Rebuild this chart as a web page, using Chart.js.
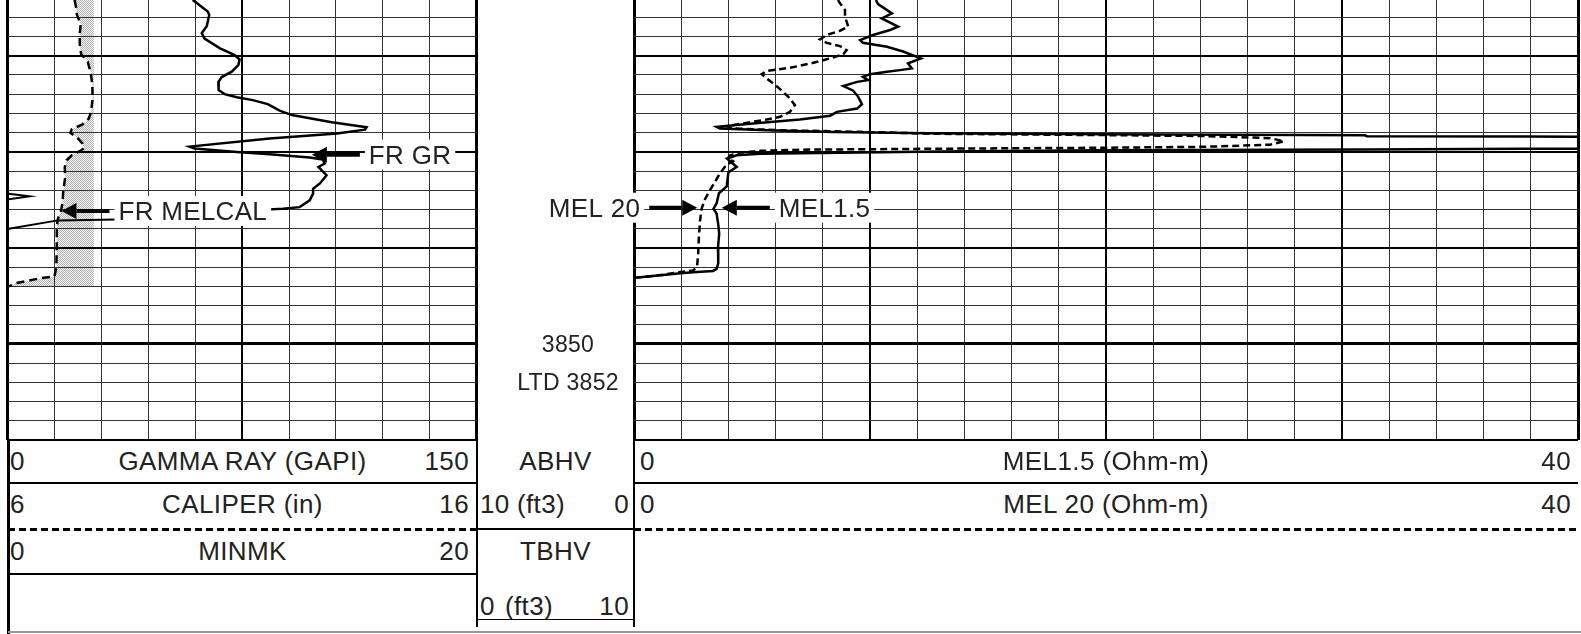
<!DOCTYPE html>
<html>
<head>
<meta charset="utf-8">
<title>Well log</title>
<script src="https://cdn.jsdelivr.net/npm/chart.js@4.4.1/dist/chart.umd.min.js"></script>
<style>
  html, body { margin: 0; padding: 0; background: #fff; }
  body { position: relative; width: 1581px; height: 634px; overflow: hidden; font-family: "Liberation Sans", Arial, sans-serif; }
  canvas { position: absolute; top: 0; }
  #trackLeft { left: 0; width: 480px; height: 442px; }
  #trackRight { left: 477px; width: 1104px; height: 442px; }
  .tx { position: absolute; font-size: 26px; letter-spacing: 0.4px; line-height: 30px; height: 30px; white-space: nowrap; color: #222; }
  .c { text-align: center; }
  .r { text-align: right; }
  .ln { position: absolute; background: #000; }
  .dash { position: absolute; height: 2.5px; background: repeating-linear-gradient(to right, #000 0 7px, transparent 7px 11px); }
</style>
</head>
<body>
<canvas id="trackLeft" width="480" height="442"></canvas>
<canvas id="trackRight" width="1104" height="442"></canvas>

<!-- header: left track -->
<div class="tx" style="left:10px;top:446px">0</div>
<div class="tx c" style="left:8px;width:469px;top:446px">GAMMA RAY (GAPI)</div>
<div class="tx r" style="left:380px;width:89px;top:446px">150</div>
<div class="tx" style="left:10px;top:489px">6</div>
<div class="tx c" style="left:8px;width:469px;top:489px">CALIPER (in)</div>
<div class="tx r" style="left:380px;width:89px;top:489px">16</div>
<div class="tx" style="left:10px;top:536px">0</div>
<div class="tx c" style="left:8px;width:469px;top:536px">MINMK</div>
<div class="tx r" style="left:380px;width:89px;top:536px">20</div>

<!-- header: depth track -->
<div class="tx c" style="left:477px;width:157px;top:446px">ABHV</div>
<div class="tx" style="left:480px;top:489px">10</div>
<div class="tx c" style="left:506px;width:70px;top:489px">(ft3)</div>
<div class="tx r" style="left:590px;width:39px;top:489px">0</div>
<div class="tx c" style="left:477px;width:157px;top:536px">TBHV</div>
<div class="tx" style="left:480px;top:591px">0</div>
<div class="tx c" style="left:494px;width:70px;top:591px">(ft3)</div>
<div class="tx r" style="left:590px;width:39px;top:591px">10</div>

<!-- header: right track -->
<div class="tx" style="left:640px;top:446px">0</div>
<div class="tx c" style="left:634px;width:944px;top:446px">MEL1.5 (Ohm-m)</div>
<div class="tx r" style="left:1471px;width:100px;top:446px">40</div>
<div class="tx" style="left:640px;top:489px">0</div>
<div class="tx c" style="left:634px;width:944px;top:489px">MEL 20 (Ohm-m)</div>
<div class="tx r" style="left:1471px;width:100px;top:489px">40</div>

<!-- header rules -->
<div class="ln" style="left:6.5px;top:440px;width:3px;height:194px"></div>
<div class="ln" style="left:8px;top:481.5px;width:469px;height:2.5px"></div>
<div class="dash" style="left:8px;top:528px;width:469px"></div>
<div class="ln" style="left:8px;top:573.2px;width:469px;height:1.7px"></div>
<div class="ln" style="left:476px;top:440px;width:2px;height:187px"></div>
<div class="ln" style="left:477px;top:528.2px;width:157px;height:1.7px"></div>
<div class="ln" style="left:477px;top:618.5px;width:157px;height:1.7px"></div>
<div class="ln" style="left:633px;top:440px;width:2px;height:187px"></div>
<div class="ln" style="left:634px;top:481.5px;width:944px;height:2.5px"></div>
<div class="dash" style="left:634px;top:528px;width:944px"></div>
<div class="ln" style="left:8px;top:630.5px;width:1573px;height:2px;background:#999"></div>

<script>
// depth window (ft)
const depthTop = 3832.1;
const depthBottom = 3855;
const depthTicks = [];
for (let d = 3833; d <= depthBottom; d++) depthTicks.push(d);

// gamma ray (GAPI)
const grDepth = [3832.10, 3832.26, 3832.70, 3832.88, 3833.46, 3833.82, 3834.11, 3834.60, 3834.97, 3835.20,
  3835.49, 3835.83, 3836.11, 3836.37, 3836.79, 3837.00, 3837.16, 3837.31, 3837.52, 3837.86,
  3838.09, 3838.46, 3838.72, 3838.85, 3839.05, 3839.31, 3839.73, 3839.83, 3840.01, 3840.13,
  3840.30, 3840.40, 3840.61, 3840.79, 3841.22, 3841.66, 3841.92, 3842.18, 3842.53, 3842.88,
  3842.97, 3843.01];
const grValue = [59.2, 60.5, 64.0, 64.5, 63.7, 62.1, 63.0, 67.8, 72.6, 74.2,
  73.8, 71.7, 68.5, 67.4, 67.5, 69.4, 73.3, 78.4, 83.2, 87.0,
  90.9, 103.7, 114.8, 114.3, 105.3, 83.8, 58.2, 59.8, 73.3, 83.8,
  96.6, 100.8, 101.4, 99.4, 102.0, 99.8, 97.7, 97.7, 96.6, 93.4,
  88.0, 82.2];

// caliper (in) and bit size
const calDepth = [3832.10, 3832.46, 3832.88, 3833.35, 3833.87, 3834.39, 3834.92, 3835.32, 3835.85, 3836.53,
  3837.31, 3837.94, 3838.28, 3838.59, 3838.82, 3839.01, 3839.27, 3839.58, 3839.82, 3839.97,
  3840.18, 3840.44, 3840.81, 3841.33, 3842.00, 3842.68, 3843.05, 3843.52, 3843.93, 3844.98,
  3846.02, 3846.49, 3846.59, 3846.85, 3847.01];
const calValue = [7.43, 7.46, 7.48, 7.56, 7.54, 7.54, 7.57, 7.71, 7.77, 7.81,
  7.81, 7.78, 7.73, 7.59, 7.37, 7.34, 7.49, 7.60, 7.63, 7.54,
  7.37, 7.26, 7.22, 7.23, 7.19, 7.17, 7.14, 7.07, 7.05, 7.05,
  7.04, 7.00, 6.68, 6.15, 6.03];
const bitSize = 7.84;

// MINMK
const minmkDepth = [3842.18, 3842.32, 3842.47, null, 3844.00, 3843.57, 3843.53];
const minmkValue = [0.05, 0.94, 0.05, null, 0.05, 2.15, 4.64];

// MEL1.5 (ohm-m)
const mel15Depth = [3832.10, 3832.31, 3832.80, 3833.06, 3833.49, 3833.66, 3833.92, 3834.19, 3834.33, 3834.53,
  3834.78, 3835.14, 3835.40, 3835.66, 3835.75, 3835.84, 3835.96, 3836.10, 3836.27, 3836.36,
  3836.58, 3836.82, 3837.14, 3837.52, 3837.75, 3837.92, 3838.12, 3838.32, 3838.53, 3838.70,
  3838.79, 3838.88, 3838.97, 3839.03, 3839.09, 3839.14, 3839.19, 3839.21, 3839.23, 3839.83,
  3839.84, 3839.88, 3839.92, 3839.99, 3840.10, 3840.18, 3840.35, 3840.79, 3841.07, 3841.80,
  3842.16, 3842.68, 3842.96, 3843.22, 3843.78, 3844.26, 3844.98, 3845.81, 3846.09, 3846.20,
  3846.26, 3846.31, 3846.41, 3846.56];
const mel15Value = [10.25, 10.34, 10.93, 10.50, 11.19, 10.85, 10.13, 9.58, 9.70, 10.72,
  11.40, 12.16, 11.61, 11.77, 11.27, 10.72, 10.00, 9.70, 9.92, 9.45,
  8.87, 9.29, 9.50, 9.66, 9.45, 8.60, 8.31, 7.03, 5.04, 3.50,
  3.64, 5.64, 8.43, 12.54, 19.75, 30.97, 31.06, 37.71, 55, 55,
  37.71, 30.97, 19.75, 12.97, 5.34, 4.35, 3.94, 4.35, 4.00, 3.93,
  3.60, 3.50, 3.37, 3.50, 3.57, 3.61, 3.56, 3.57, 3.50, 3.35,
  2.67, 2.08, 1.23, 0.04];

// MEL 20 (ohm-m)
const mel20Depth = [3832.10, 3832.27, 3832.62, 3832.97, 3833.49, 3833.70, 3833.92, 3834.15, 3834.33, 3834.50,
  3834.71, 3834.92, 3835.09, 3835.37, 3835.63, 3835.79, 3835.96, 3836.18, 3836.65, 3837.14,
  3837.57, 3837.92, 3838.18, 3838.32, 3838.46, 3838.67, 3838.79, 3838.88, 3838.96, 3839.06,
  3839.13, 3839.18, 3839.29, 3839.45, 3839.63, 3839.74, 3839.79, 3839.84, 3839.89, 3839.95,
  3840.05, 3840.18, 3840.34, 3840.49, 3840.70, 3841.13, 3841.57, 3842.00, 3842.47, 3842.94,
  3843.57, 3844.44, 3845.29, 3846.00, 3846.18, 3846.26, 3846.40, 3846.56];
const mel20Value = [8.64, 8.73, 8.94, 8.94, 9.08, 8.73, 8.17, 7.88, 8.17, 8.73,
  9.01, 8.87, 8.44, 7.60, 6.61, 5.62, 5.41, 5.62, 6.11, 6.54,
  6.82, 6.61, 6.19, 5.62, 4.92, 3.93, 4.21, 6.33, 9.58, 12.54,
  19.75, 24.19, 26.95, 27.54, 26.95, 24.19, 19.75, 12.97, 7.03, 5.34,
  4.49, 4.07, 3.98, 4.19, 3.90, 3.64, 3.43, 3.22, 3.01, 2.87,
  2.80, 2.75, 2.72, 2.67, 2.50, 1.95, 1.23, 0.04];

// arrow notes: tip at (value on axis, depth); dir -1 = arrow points left
const leftNotes = [
  { text: 'FR GR', axis: 'x', value: 97.3, depth: 3840.15, dir: -1 },
  { text: 'FR MELCAL', axis: 'xCal', value: 7.15, depth: 3843.08, dir: -1 }
];
const rightNotes = [
  { text: 'MEL 20', axis: 'x2', value: 2.68, depth: 3842.91, dir: 1 },
  { text: 'MEL1.5', axis: 'x', value: 3.72, depth: 3842.91, dir: -1 }
];
const depthLabels = [
  { text: '3850', depth: 3850 },
  { text: 'LTD 3852', depth: 3852 }
];

const pts = (depths, values) => depths.map((d, i) => ({ x: values[i], y: d }));

const noteFont = '26px "Liberation Sans", Arial, sans-serif';
const depthFont = '23px "Liberation Sans", Arial, sans-serif';

function drawArrowNote(ctx, x, y, text, dir) {
  const head = 15, half = 8, shaft = 33, gap = 9;
  ctx.save();
  ctx.font = noteFont;
  ctx.letterSpacing = '0.3px';
  const w = ctx.measureText(text).width;
  const base = x - dir * head;
  const tail = base - dir * shaft;
  const textX = dir > 0 ? tail - gap - w : tail + gap;
  ctx.fillStyle = '#fff';
  ctx.fillRect(textX - 4, y - 15, w + 8, 30);
  ctx.fillStyle = '#222';
  ctx.fillText(text, textX, y + 9);
  ctx.strokeStyle = '#000';
  ctx.lineWidth = 4;
  ctx.beginPath();
  ctx.moveTo(base, y);
  ctx.lineTo(tail, y);
  ctx.stroke();
  ctx.fillStyle = '#000';
  ctx.beginPath();
  ctx.moveTo(x, y);
  ctx.lineTo(base, y - half);
  ctx.lineTo(base, y + half);
  ctx.closePath();
  ctx.fill();
  ctx.restore();
}

function notesPlugin(items, labels) {
  return {
    id: 'notes',
    afterDatasetsDraw(chart) {
      const ctx = chart.ctx;
      const ys = chart.scales.y;
      items.forEach(n => {
        drawArrowNote(ctx, chart.scales[n.axis].getPixelForValue(n.value), ys.getPixelForValue(n.depth), n.text, n.dir);
      });
      labels.forEach(l => {
        ctx.save();
        ctx.font = depthFont;
        ctx.letterSpacing = '0.3px';
        ctx.fillStyle = '#222';
        ctx.textAlign = 'center';
        ctx.fillText(l.text, chart.chartArea.left - 66, ys.getPixelForValue(l.depth) + 8);
        ctx.restore();
      });
    }
  };
}

function stipple() {
  const c = document.createElement('canvas');
  c.width = 2; c.height = 2;
  const g = c.getContext('2d');
  g.fillStyle = '#f0f0f0';
  g.fillRect(0, 0, 2, 2);
  g.fillStyle = '#b4b4b4';
  g.fillRect(0, 0, 1, 1);
  g.fillRect(1, 1, 1, 1);
  return g.createPattern(c, 'repeat');
}

const depthAxis = {
  type: 'linear',
  reverse: true,
  min: depthTop,
  max: depthBottom,
  afterBuildTicks: s => { s.ticks = depthTicks.map(v => ({ value: v })); },
  ticks: { display: false },
  border: { display: false },
  grid: {
    drawTicks: false,
    color: c => (c.tick.value % 5 === 0 ? '#000' : '#333'),
    lineWidth: c => (c.tick.value % 50 === 0 ? 3 : c.tick.value % 5 === 0 ? 2 : 1)
  }
};

const common = {
  responsive: false,
  animation: false,
  devicePixelRatio: 1,
  events: [],
  plugins: { legend: { display: false }, tooltip: { enabled: false }, filler: { drawTime: 'beforeDraw' } }
};

Chart.defaults.font.family = '"Liberation Sans", Arial, sans-serif';

// left track: GR, caliper, MINMK
const calPts = pts(calDepth, calValue);
const calFill = calPts.concat([
  { x: bitSize, y: calDepth[calDepth.length - 1] },
  { x: bitSize, y: calDepth[0] }
]);

new Chart(document.getElementById('trackLeft'), {
  type: 'scatter',
  data: {
    datasets: [
      { label: 'mudcake', data: calFill, xAxisID: 'xCal', showLine: true, fill: 'shape',
        backgroundColor: stipple(), borderWidth: 0, pointRadius: 0 },
      { label: 'MINMK', data: pts(minmkDepth, minmkValue), xAxisID: 'xMk', showLine: true,
        borderColor: '#000', borderWidth: 2, pointRadius: 0, spanGaps: false },
      { label: 'CALIPER', data: calPts, xAxisID: 'xCal', showLine: true,
        borderColor: '#000', borderWidth: 2.5, borderDash: [8, 5], pointRadius: 0 },
      { label: 'GAMMA RAY', data: pts(grDepth, grValue), xAxisID: 'x', showLine: true,
        borderColor: '#000', borderWidth: 2.5, pointRadius: 0 }
    ]
  },
  options: Object.assign({}, common, {
    layout: { padding: { left: 7.5, right: 3.3, top: 0, bottom: 2 } },
    scales: {
      x: {
        type: 'linear', min: 0, max: 150, position: 'bottom',
        ticks: { display: false, stepSize: 15 },
        border: { display: false },
        grid: {
          drawTicks: false,
          color: c => ([0, 75, 150].includes(c.tick.value) ? '#000' : '#333'),
          lineWidth: c => (c.tick.value === 0 || c.tick.value === 150 ? 3 : c.tick.value === 75 ? 2 : 1)
        }
      },
      xCal: { type: 'linear', min: 6, max: 16, display: false },
      xMk: { type: 'linear', min: 0, max: 20, display: false },
      y: depthAxis
    }
  }),
  plugins: [notesPlugin(leftNotes, [])]
});

// right track: MEL1.5 and MEL 20, with the depth column on its left
new Chart(document.getElementById('trackRight'), {
  type: 'scatter',
  data: {
    datasets: [
      { label: 'MEL 20', data: pts(mel20Depth, mel20Value), xAxisID: 'x2', showLine: true,
        borderColor: '#000', borderWidth: 2.5, borderDash: [7, 4], pointRadius: 0 },
      { label: 'MEL1.5', data: pts(mel15Depth, mel15Value), xAxisID: 'x', showLine: true,
        borderColor: '#000', borderWidth: 2.5, pointRadius: 0 }
    ]
  },
  options: Object.assign({}, common, {
    layout: { padding: { left: 157, right: 3, top: 0, bottom: 2 } },
    scales: {
      x: {
        type: 'linear', min: 0, max: 40, position: 'bottom',
        ticks: { display: false, stepSize: 2 },
        border: { display: false },
        grid: {
          drawTicks: false,
          color: c => (c.tick.value % 10 === 0 ? '#000' : '#333'),
          lineWidth: c => (c.tick.value === 0 || c.tick.value === 40 ? 3 : c.tick.value % 10 === 0 ? 2 : 1)
        }
      },
      x2: { type: 'linear', min: 0, max: 40, display: false },
      y: depthAxis
    }
  }),
  plugins: [notesPlugin(rightNotes, depthLabels)]
});
</script>
</body>
</html>
